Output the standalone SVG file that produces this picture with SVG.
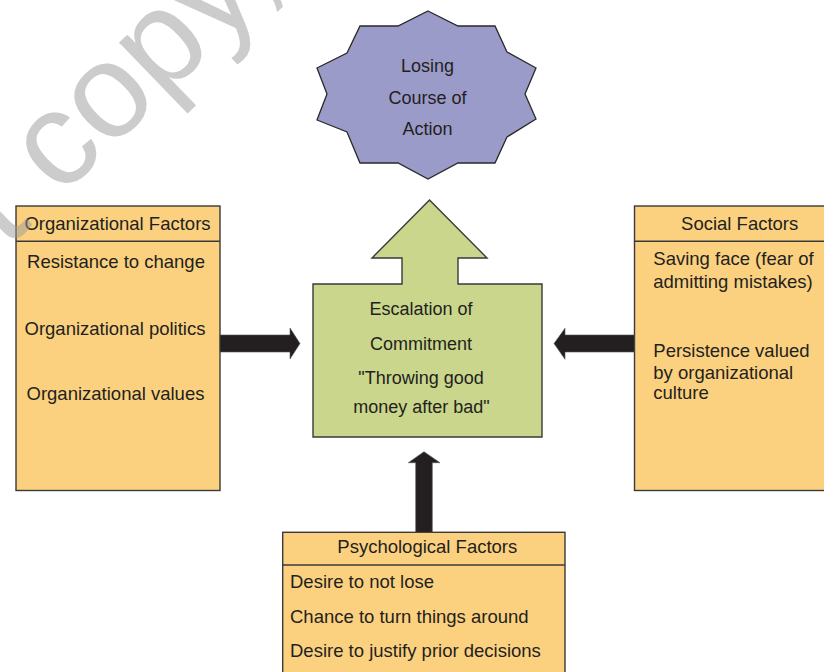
<svg xmlns="http://www.w3.org/2000/svg" width="824" height="672" viewBox="0 0 824 672">
<style>
text{font-family:"Liberation Sans",Arial,sans-serif;font-size:18px;fill:#231f20}
.f{font-size:18.5px}
.box{fill:#fbd17f;stroke:#3a3a3a;stroke-width:1.4}
.div{stroke:#3a3a3a;stroke-width:1.4}
.mid{text-anchor:middle}
.arr{fill:#231f20;stroke:#555;stroke-width:0.6}
.wm{font-size:134px;fill:#9a9a9a;fill-opacity:0.5}
</style>
<rect width="824" height="672" fill="#fff"/>
<g id="losing">
<polygon points="428,11 458,26 495,26 507,52 536,68 525,94 536,119 507,137 495,163 458,163 428,179 398,163 360,163 347,132 317,120 327,94 317,68 347,53 360,26 398,26" fill="#9b9bc9" stroke="#2a2a2a" stroke-width="1.3"/>
<text class="mid" x="427.5" y="72">Losing</text>
<text class="mid" x="427.5" y="104">Course of</text>
<text class="mid" x="427.5" y="135">Action</text>
</g>
<g id="escalation">
<polygon points="313,284 402,284 402,258 372,258 429.5,200 487,258 458,258 458,284 542,284 542,437 313,437" fill="#c9d68b" stroke="#3a3a3a" stroke-width="1.4"/>
<text class="mid" x="421" y="315">Escalation of</text>
<text class="mid" x="421" y="349.5">Commitment</text>
<text class="mid" x="421" y="383.5">"Throwing good</text>
<text class="mid" x="421.5" y="413">money after bad"</text>
</g>
<g id="organizational">
<rect class="box" x="16" y="206" width="204" height="284.5"/>
<line class="div" x1="16" y1="241.3" x2="220" y2="241.3"/>
<text class="mid f" x="117.5" y="230">Organizational Factors</text>
<text class="mid f" x="116" y="268">Resistance to change</text>
<text class="mid f" x="115" y="334.5">Organizational politics</text>
<text class="mid f" x="115.5" y="400">Organizational values</text>
</g>
<g id="social">
<rect class="box" x="634.5" y="206" width="200" height="284.5"/>
<line class="div" x1="634.5" y1="241.3" x2="830" y2="241.3"/>
<text class="mid f" x="739.7" y="230">Social Factors</text>
<text class="f" x="653.3" y="265">Saving face (fear of</text>
<text class="f" x="653.3" y="288.3">admitting mistakes)</text>
<text class="f" x="653.3" y="357.3">Persistence valued</text>
<text class="f" x="653.3" y="379.3">by organizational</text>
<text class="f" x="653.3" y="399.3">culture</text>
</g>
<g id="psychological">
<rect class="box" x="282.7" y="532.3" width="282.3" height="150"/>
<line class="div" x1="282.7" y1="565" x2="565" y2="565"/>
<text class="mid f" x="427.3" y="552.7">Psychological Factors</text>
<text class="f" x="290" y="588.3">Desire to not lose</text>
<text class="f" x="290" y="623.3">Chance to turn things around</text>
<text class="f" x="290" y="656.7">Desire to justify prior decisions</text>
</g>
<g id="connectors">
<polygon class="arr" points="220,335 290,335 290,328 300,343.5 290,359 290,352 220,352"/>
<polygon class="arr" points="634.3,335 565,335 565,328.3 554,343.5 565,359.3 565,352 634.3,352"/>
<polygon class="arr" points="415.7,532.3 415.7,462.7 408.3,462.7 424,451.7 440,462.7 432.3,462.7 432.3,532.3"/>
</g>
<text class="wm" transform="translate(60,198) rotate(-44)" x="-74.5" y="0">t copy,</text>
</svg>
